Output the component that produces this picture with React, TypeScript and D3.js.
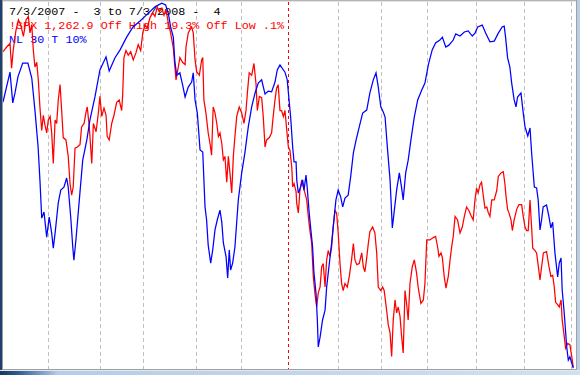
import React from "react";
import * as d3 from "d3";

// Trading-day index (0 = 7/3/2007) and value
const spxPoints: [number, number][] = [
  [0, 1530], [1.6, 1534], [3.1, 1537], [3.8, 1516], [4.5, 1531], [5.7, 1548], [6.8, 1557], [7.8, 1553],
  [9.0, 1543], [10.2, 1557], [11.2, 1560], [11.9, 1546], [12.7, 1553], [13.4, 1531], [14.1, 1517], [14.9, 1521],
  [15.6, 1506], [16.3, 1483], [17.1, 1463], [17.8, 1476], [18.5, 1468], [19.3, 1461], [20.0, 1472], [20.8, 1475],
  [21.5, 1461], [22.2, 1435], [23.0, 1472], [23.7, 1469], [24.4, 1489], [25.2, 1502], [25.9, 1480], [26.6, 1457],
  [27.8, 1455], [28.8, 1441], [29.6, 1418], [30.3, 1408], [31.0, 1415], [31.8, 1448], [32.8, 1449], [34.0, 1451],
  [34.7, 1466], [35.8, 1469], [36.6, 1478], [37.2, 1483], [38.1, 1466], [39.2, 1435], [39.9, 1469], [41.1, 1462],
  [42.1, 1478], [42.8, 1492], [43.6, 1475], [44.6, 1482], [45.5, 1476], [46.0, 1458], [46.9, 1455], [48.0, 1469],
  [49.0, 1476], [50.2, 1487], [51.3, 1489], [52.4, 1480], [52.8, 1492], [53.4, 1525], [54.3, 1531], [55.3, 1527],
  [56.4, 1530], [57.5, 1523], [58.7, 1529], [59.7, 1536], [60.8, 1531], [61.7, 1546], [62.7, 1553], [63.7, 1550],
  [64.9, 1559], [66.1, 1563], [67.1, 1560], [68.1, 1568], [69.0, 1564], [70.1, 1567], [71.1, 1561], [72.0, 1566],
  [73.0, 1554], [74.0, 1546], [75.2, 1533], [75.9, 1517], [76.4, 1506], [77.4, 1517], [78.1, 1525], [79.3, 1521],
  [80.4, 1519], [80.8, 1534], [81.8, 1546], [82.9, 1550], [83.3, 1551], [84.0, 1546], [84.8, 1523], [85.5, 1513],
  [86.7, 1510], [87.7, 1523], [88.2, 1525], [88.7, 1489], [89.6, 1478], [90.6, 1461], [91.4, 1452], [92.1, 1442],
  [92.8, 1483], [93.6, 1478], [94.4, 1469], [95.1, 1458], [95.8, 1461], [96.6, 1452], [97.3, 1438], [98.0, 1441],
  [98.8, 1419], [99.5, 1441], [100.2, 1427], [101.0, 1410], [101.7, 1441], [102.4, 1458], [103.2, 1475], [104.3, 1483],
  [105.4, 1478], [106.4, 1469], [107.3, 1480], [107.9, 1495], [108.7, 1512], [109.8, 1510], [110.8, 1520], [111.7, 1503],
  [112.3, 1480], [113.2, 1492], [114.2, 1491], [114.9, 1475], [115.7, 1449], [116.4, 1455], [117.6, 1457], [118.6, 1461],
  [119.3, 1475], [120.1, 1489], [120.8, 1499], [121.5, 1502], [122.3, 1480], [123.0, 1480], [123.8, 1475], [124.5, 1480],
  [125.3, 1463], [126.0, 1449], [126.7, 1446], [127.5, 1432], [127.9, 1415], [128.5, 1418], [129.4, 1411], [129.7, 1401],
  [130.4, 1393], [131.1, 1412], [131.9, 1421], [132.6, 1415], [133.3, 1410], [134.1, 1404], [134.8, 1390], [135.5, 1378],
  [136.3, 1367], [137.0, 1339], [137.7, 1325], [138.5, 1313], [139.2, 1325], [140.0, 1330], [140.7, 1347], [141.4, 1350],
  [142.2, 1330], [142.9, 1353], [143.6, 1361], [144.4, 1356], [145.1, 1364], [145.8, 1381], [146.6, 1395], [147.3, 1393],
  [148.0, 1376], [148.8, 1350], [149.5, 1333], [150.2, 1327], [151.0, 1333], [152.0, 1330], [152.9, 1339], [153.9, 1353],
  [154.7, 1367], [155.4, 1353], [156.2, 1349], [157.3, 1350], [158.4, 1359], [159.1, 1347], [159.8, 1343], [160.6, 1355],
  [161.3, 1367], [162.0, 1377], [163.2, 1381], [164.2, 1376], [165.0, 1359], [165.7, 1330], [166.8, 1327], [167.6, 1330],
  [168.3, 1327], [169.4, 1310], [170.1, 1298], [170.9, 1291], [171.6, 1271], [172.3, 1302], [173.1, 1319], [173.8, 1308],
  [174.5, 1313], [175.3, 1305], [176.0, 1288], [176.7, 1274], [177.5, 1327], [178.2, 1316], [178.9, 1302], [179.7, 1333],
  [180.7, 1347], [181.6, 1353], [182.6, 1342], [183.3, 1330], [184.5, 1316], [185.6, 1319], [186.3, 1333], [187.1, 1370],
  [188.5, 1370], [190.0, 1372], [191.0, 1373], [191.9, 1364], [192.5, 1356], [193.4, 1359], [194.0, 1355], [194.8, 1339],
  [195.6, 1329], [196.6, 1339], [197.4, 1353], [198.1, 1364], [198.8, 1373], [199.6, 1390], [200.7, 1387], [201.8, 1376],
  [202.8, 1381], [203.7, 1390], [204.7, 1398], [205.7, 1395], [206.6, 1391], [207.6, 1387], [208.4, 1404], [209.1, 1414],
  [209.8, 1410], [210.6, 1417], [211.3, 1419], [212.1, 1407], [212.8, 1397], [213.6, 1398], [214.3, 1393], [215.0, 1390],
  [215.8, 1404], [216.9, 1404], [218.0, 1412], [218.7, 1424], [219.9, 1427], [220.9, 1428], [221.6, 1418], [222.1, 1407],
  [222.8, 1396], [223.4, 1393], [224.3, 1387], [224.9, 1378], [225.7, 1387], [226.8, 1396], [227.8, 1400], [229.0, 1400],
  [229.7, 1390], [230.5, 1381], [231.2, 1378], [231.9, 1378], [232.7, 1404], [233.4, 1381], [233.9, 1363], [234.9, 1361],
  [235.6, 1359], [236.4, 1347], [237.1, 1336], [237.8, 1347], [238.6, 1359], [240.0, 1360], [241.1, 1347], [241.9, 1339],
  [242.7, 1340], [243.4, 1330], [244.0, 1317], [244.9, 1315], [245.6, 1313], [246.4, 1319], [246.9, 1302], [247.8, 1288],
  [248.4, 1278], [249.3, 1282], [250.3, 1281], [251.1, 1271], [251.8, 1262],
];

const nlPoints: [number, number][] = [
  [0, 73.4], [3.1, 81.6], [4.3, 73.2], [5.3, 75.9], [6.6, 80.3], [8.7, 84.1], [11.0, 84.1], [12.7, 80.0],
  [14.1, 71.2], [15.5, 61.1], [16.3, 52.1], [17.1, 41.6], [18.1, 43.3], [19.3, 36.4], [20.4, 41.9], [21.5, 37.5],
  [22.2, 33.4], [23.0, 37.5], [24.4, 45.8], [25.5, 49.3], [26.9, 50.1], [28.1, 52.6], [28.8, 50.1], [29.9, 41.9],
  [30.8, 33.7], [31.3, 30.1], [32.2, 35.6], [33.7, 46.6], [35.2, 57.5], [37.0, 63.0], [38.4, 68.5], [40.6, 74.8],
  [42.8, 82.2], [45.5, 85.8], [46.9, 81.9], [49.4, 85.5], [51.7, 87.7], [54.6, 91.2], [57.4, 94.0], [60.5, 95.6],
  [63.4, 97.3], [67.1, 99.5], [70.1, 100.5], [71.8, 100.0], [73.0, 97.8], [74.0, 94.0], [75.2, 91.2], [75.9, 84.4],
  [76.7, 80.8], [78.1, 81.4], [79.3, 78.1], [80.4, 74.8], [81.8, 77.5], [83.3, 78.9], [84.0, 81.4], [84.8, 74.0],
  [85.8, 70.4], [87.0, 60.3], [88.2, 59.7], [89.2, 44.7], [89.9, 41.1], [90.6, 34.2], [91.7, 29.3], [92.6, 32.9],
  [93.6, 38.4], [94.6, 41.1], [95.8, 43.8], [96.6, 40.5], [97.3, 34.8], [98.5, 31.0], [99.2, 25.2], [99.9, 32.9],
  [100.5, 27.4], [101.4, 29.3], [102.4, 33.7], [103.9, 46.6], [105.4, 54.0], [106.8, 59.5], [108.3, 66.6], [109.8, 72.1],
  [111.3, 75.9], [112.7, 78.6], [114.2, 79.5], [115.7, 75.6], [117.1, 76.4], [118.6, 76.2], [120.1, 78.9], [121.1, 82.2],
  [122.3, 83.6], [124.5, 81.6], [125.5, 79.5], [126.3, 74.0], [127.0, 69.3], [127.9, 61.1], [128.5, 57.0], [129.4, 57.0],
  [129.7, 52.1], [130.4, 48.5], [131.4, 50.1], [132.3, 52.1], [132.9, 49.3], [133.8, 53.4], [134.3, 50.1], [135.2, 43.0],
  [135.8, 39.2], [136.7, 33.7], [137.3, 26.6], [138.2, 21.1], [138.8, 13.7], [139.2, 6.3], [140.0, 9.0], [141.1, 13.7],
  [142.2, 16.4], [142.9, 22.7], [144.1, 29.3], [145.1, 34.8], [146.1, 41.1], [147.0, 46.6], [148.0, 49.3], [149.1, 47.4],
  [150.0, 44.7], [151.0, 47.1], [152.4, 47.9], [153.5, 52.9], [154.7, 59.5], [155.9, 63.0], [157.3, 66.6], [158.8, 70.4],
  [160.6, 71.2], [162.0, 75.9], [163.5, 79.5], [164.7, 81.4], [165.7, 77.5], [166.8, 72.1], [167.9, 70.7], [168.7, 69.3],
  [169.8, 60.3], [170.9, 52.1], [171.9, 38.9], [172.8, 43.8], [173.8, 49.3], [175.0, 54.0], [176.0, 49.9], [176.7, 46.6],
  [177.8, 54.0], [178.9, 57.5], [180.1, 63.0], [181.6, 69.3], [183.1, 74.0], [184.9, 76.7], [186.3, 78.6], [187.8, 83.6],
  [189.5, 87.7], [191.0, 89.6], [192.9, 90.4], [194.0, 91.2], [195.5, 88.5], [196.9, 89.0], [198.8, 90.4], [199.9, 92.1],
  [201.8, 91.5], [203.7, 92.6], [205.4, 92.9], [207.2, 91.5], [208.4, 92.3], [209.6, 94.0], [211.6, 94.5], [213.1, 92.3],
  [215.0, 89.9], [216.9, 90.1], [218.7, 92.3], [220.4, 94.0], [221.3, 94.2], [221.9, 91.2], [222.8, 85.5], [223.8, 83.0],
  [224.6, 78.6], [225.7, 74.0], [226.5, 72.1], [227.2, 74.8], [228.7, 75.9], [229.7, 70.4], [230.5, 66.6], [231.7, 64.1],
  [232.7, 66.3], [233.4, 59.5], [234.6, 50.1], [235.6, 49.9], [236.3, 46.6], [237.1, 38.4], [237.8, 41.1], [238.5, 44.7],
  [240.0, 45.2], [241.1, 41.9], [241.9, 38.9], [242.7, 40.5], [243.7, 32.1], [244.9, 25.5], [245.6, 29.3], [246.4, 30.7],
  [246.9, 21.9], [247.8, 15.6], [248.9, 6.3], [249.6, 2.7], [250.3, 3.6], [251.1, 1.9], [251.8, 0.5],
];

// first trading day of each month, Aug 2007 .. Jul 2008
const monthStarts = [20, 43, 62, 85, 105, 126, 148, 167, 187, 209, 230, 251];
const yearStart = 126;

const headerLines = [
  "7/3/2007 -  3 to 7/3/2008 -  4",
  "!SPX 1,262.9 Off High 19.3% Off Low .1%",
  "NL 30 T 10%",
];
const headerColors = ["#000000", "#ff0000", "#0000ff"];

const W = 580;
const H = 375;

export default function App() {
  const x = d3.scaleLinear().domain([0, 253]).range([3, 576]);
  const ySpx = d3.scaleLinear().domain([1262, 1568]).range([367, 7]);
  const yNl = d3.scaleLinear().domain([0, 100]).range([370, 5]);

  const spxLine = d3
    .line<[number, number]>()
    .x((d) => x(d[0]))
    .y((d) => ySpx(d[1]));
  const nlLine = d3
    .line<[number, number]>()
    .x((d) => x(d[0]))
    .y((d) => yNl(d[1]));

  return (
    <svg
      width={W}
      height={H}
      style={{ position: "absolute", left: 0, top: 0, display: "block" }}
    >
      <defs>
        <linearGradient id="bottomGrad" x1="0" x2="1" y1="0" y2="0">
          <stop offset="0" stopColor="#1a3560" />
          <stop offset="0.03" stopColor="#2d5a92" />
          <stop offset="0.1" stopColor="#b5cdea" />
          <stop offset="1" stopColor="#cfe0f2" />
        </linearGradient>
        <clipPath id="plotClip">
          <rect x={3} y={1} width={573} height={368} />
        </clipPath>
      </defs>
      <rect x={0} y={0} width={W} height={H} fill="#ffffff" />

      {/* vertical month grid */}
      <g>
        {monthStarts.map((m) => (
          <line
            key={m}
            x1={Math.round(x(m)) + 0.5}
            x2={Math.round(x(m)) + 0.5}
            y1={2}
            y2={369}
            stroke={m === yearStart ? "#ff0000" : "#c0c0c0"}
            strokeWidth={1}
            strokeDasharray={m === yearStart ? "3,3" : "4,3"}
          />
        ))}
      </g>

      {/* header text */}
      <g fontFamily="'Liberation Mono', 'Courier New', monospace" fontSize={11.75}>
        {headerLines.map((t, i) => (
          <text key={i} x={9} y={14.5 + i * 14} fill={headerColors[i]} style={{ whiteSpace: "pre" }} xmlSpace="preserve">
            {t}
          </text>
        ))}
      </g>

      <g clipPath="url(#plotClip)">
        <path d={spxLine(spxPoints) || ""} fill="none" stroke="#ff0000" strokeWidth={1.25} strokeLinejoin="miter" />
        <path d={nlLine(nlPoints) || ""} fill="none" stroke="#0000ff" strokeWidth={1.25} strokeLinejoin="miter" />
      </g>

      {/* window frame */}
      <rect x={0} y={0} width={W} height={1} fill="#b4b4b4" />
      <rect x={0} y={1} width={W} height={1} fill="#e4e4e4" />
      <rect x={0} y={0} width={2} height={H} fill="#1f3f6e" />
      <rect x={2} y={0} width={1} height={370} fill="#9a9a9a" />
      <rect x={576} y={0} width={1} height={370} fill="#a0a0a0" />
      <rect x={577} y={0} width={3} height={H} fill="#b8cde6" />
      <rect x={2} y={369} width={575} height={1} fill="#a0a0a0" />
      <rect x={0} y={370} width={W} height={1} fill="#e8e8e8" />
      <rect x={0} y={371} width={W} height={4} fill="url(#bottomGrad)" />
    </svg>
  );
}
